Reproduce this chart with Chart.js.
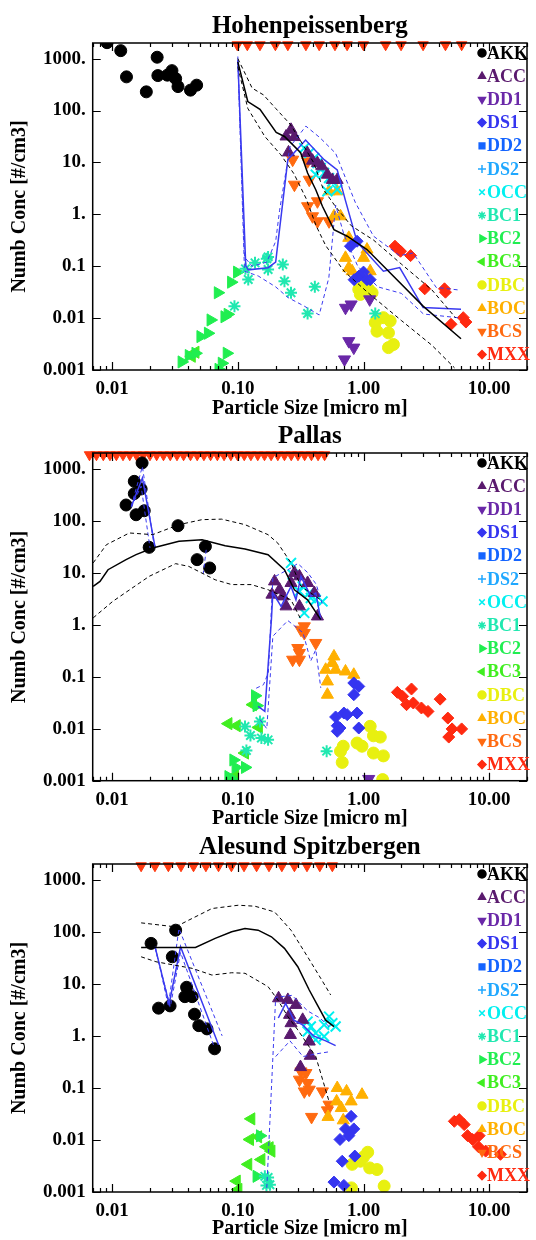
<!DOCTYPE html>
<html>
<head>
<meta charset="utf-8">
<script src="https://cdn.jsdelivr.net/npm/chart.js@4/dist/chart.umd.min.js"></script>
<style>
  html, body { margin: 0; padding: 0; background: #fff; }
  body { width: 536px; height: 1240px; position: relative; overflow: hidden; }
  .panel { position: absolute; left: 0; width: 536px; }
</style>
</head>
<body>
<div class="panel" style="top:0px"><canvas id="c1" width="536" height="420"></canvas></div>
<div class="panel" style="top:410px"><canvas id="c2" width="536" height="420"></canvas></div>
<div class="panel" style="top:821px"><canvas id="c3" width="536" height="419"></canvas></div>
<script>
// Aerosol number concentration by size class, three stations (log-log)

const xTickValues = [0.01, 0.1, 1, 10];
const xTickLabels = ['0.01', '0.10', '1.00', '10.00'];
const yTickValues = [0.001, 0.01, 0.1, 1, 10, 100, 1000];
const yTickLabels = ['0.001', '0.01', '0.1', '1.', '10.', '100.', '1000.'];

const seriesNames = ['AKK', 'ACC', 'DD1', 'DS1', 'DD2', 'DS2', 'OCC', 'BC1', 'BC2', 'BC3', 'DBC', 'BOC', 'BCS', 'MXX'];
const seriesColors = ['#000000', '#5a1a6e', '#6a28a8', '#3535f0', '#1464ff', '#20a8ff', '#00f0f0',
                      '#20e8b0', '#20ee50', '#40ee20', '#e8f010', '#ffb000', '#ff6a10', '#ff2a10'];

// values that run off the top of the panel (drawn at the top edge)
const offScaleY = 1850;

// ---- Hohenpeissenberg ----
const hpAKK = [[0.0091,2030],[0.0117,1425],[0.013,445],[0.0187,229],[0.0228,1064],[0.0231,471],[0.0275,480],[0.0299,587],[0.032,412],[0.0334,289],[0.042,247],[0.047,308]];
const hpACC = [[0.265,42.5],[0.282,30.8],[0.242,31.6],[0.253,15.6],[0.357,15.2],[0.393,10.8],[0.43,9.7],[0.466,8.4],[0.516,5.8],[0.565,4.6],[0.617,4.6]];
const hpDD1 = [[0.797,0.0183],[0.719,0.0158],[0.764,0.0036],[0.837,0.0027],[0.706,0.0016],[1.12,0.023]];
const hpDS1 = [[0.889,0.303],[0.787,0.243],[0.917,0.064],[1.0,0.077],[1.066,0.055],[1.13,0.055],[0.842,0.055]];
const hpOCC = [[0.338,18.9],[0.37,15.2],[0.406,12.2],[0.43,9.7],[0.457,7.8],[0.486,6.25],[0.417,5.8],[0.532,5.0],[0.565,4.3],[0.617,3.0],[0.516,2.77]];
const hpBC1 = [[0.094,0.017],[0.121,0.0555],[0.115,0.089],[0.137,0.116],[0.17,0.139],[0.174,0.151],[0.174,0.0865],[0.228,0.108],[0.235,0.0515],[0.265,0.0307],[0.41,0.04],[0.359,0.0123],[1.24,0.0122]];
const hpBC2 = [[0.0986,0.0767],[0.0884,0.0492],[0.0693,0.0308],[0.0783,0.0106],[0.083,0.0118],[0.0607,0.0092],[0.0578,0.0051],[0.0504,0.0044],[0.046,0.0021],[0.0407,0.0019],[0.0357,0.00143],[0.0816,0.0021],[0.0745,0.00135],[0.0702,0.00103]];
const hpBC3 = [[0.043,0.00184],[0.046,0.0022]];
const hpDBC = [[0.917,0.0357],[1.0,0.0412],[1.1,0.0357],[0.944,0.0286],[1.17,0.0308],[1.44,0.0102],[1.63,0.0088],[1.24,0.0082],[1.28,0.0056],[1.58,0.0052],[1.73,0.0031],[1.58,0.0027]];
const hpBOC = [[0.532,2.77],[0.617,2.77],[0.582,0.916],[0.656,0.916],[0.764,0.352],[1.066,0.209],[1.0,0.145],[0.719,0.145],[0.764,0.093],[0.812,0.08],[1.13,0.08]];
const hpBCS = [[0.273,11.3],[0.359,10.5],[0.282,3.72],[0.37,4.64],[0.359,1.43],[0.43,1.78],[0.393,0.916],[0.43,0.733],[0.532,0.733]];
const hpMXX = [[1.78,0.243],[1.89,0.21],[1.97,0.194],[2.37,0.16],[3.07,0.0367],[4.41,0.0367],[4.49,0.0316],[4.97,0.0076],[6.22,0.0102],[6.53,0.0084]];
const hpTopX = [0.099,0.119,0.15,0.199,0.25,0.348,0.444,0.593,0.741,1.0,1.5,1.99,2.98,4.49,6.04];
const hpMed = [[0.1,864],[0.12,149],[0.15,105],[0.202,38],[0.235,31.6],[0.316,15.4],[0.359,6.25],[0.417,2.98],[0.471,1.43],[0.582,0.508],[0.742,0.378],[1.066,0.209],[1.626,0.0747],[2.98,0.017],[5.97,0.004]];
const hpHi = [[0.1,1000],[0.115,500],[0.13,270],[0.16,200],[0.2,110],[0.26,55],[0.33,22],[0.4,10],[0.48,3],[0.6,1.4],[0.8,0.6],[1.2,0.32],[2,0.11],[3.5,0.035],[5.4,0.0102]];
const hpLo = [[0.1,700],[0.12,110],[0.164,31.6],[0.22,14],[0.28,6],[0.35,2],[0.42,0.6],[0.5,0.25],[0.7,0.08],[1.1,0.03],[2,0.009],[3.5,0.003],[5.3,0.0011]];
const hpBlue = [[0.1,940],[0.1156,0.103],[0.121,0.085],[0.174,0.0936],[0.2,0.12],[0.25,11.3],[0.346,27],[0.486,11.3],[0.618,7.2],[0.716,1.9],[0.89,0.29],[1.44,0.08],[1.94,0.094],[2.98,0.016],[5.97,0.0148]];
const hpBlueHi = [[0.1,1100],[0.113,0.15],[0.13,0.1],[0.17,0.12],[0.2,0.3],[0.215,1.2],[0.26,20],[0.348,50],[0.45,30],[0.6,15],[0.86,1.7],[1.2,0.38],[1.94,0.16],[2.48,0.18],[3.79,0.039],[5.63,0.035]];
const hpBlueLo = [[0.1,900],[0.113,0.08],[0.145,0.065],[0.2,0.04],[0.25,0.025],[0.338,0.017],[0.444,0.0115],[0.53,0.06],[0.6,1.5],[0.7,0.4],[0.9,0.1],[1.3,0.04],[2,0.03],[3,0.012],[6,0.01]];

// ---- Pallas ----
const paAKK = [[0.0173,1288],[0.015,570],[0.017,407],[0.015,331],[0.0129,200],[0.0155,130],[0.018,155],[0.0197,30.7],[0.0334,80],[0.0552,32],[0.0474,17.8],[0.0597,12.3]];
const paACC = [[0.196,6.8],[0.187,3.78],[0.215,4.7],[0.228,3.5],[0.242,2.25],[0.265,6.34],[0.282,9.9],[0.309,8.5],[0.309,2.25],[0.359,6.34],[0.406,4.07],[0.43,1.44]];
const paDD1 = [[1.1,0.00108]];
const paDS1 = [[0.837,0.0757],[0.917,0.065],[0.837,0.045],[0.6,0.0168],[0.698,0.02],[0.742,0.0186],[0.889,0.02],[0.618,0.0114],[0.65,0.0103],[0.618,0.0089],[0.917,0.0103]];
const paOCC = [[0.265,15.4],[0.273,9.2],[0.309,4.37],[0.328,5.45],[0.37,4.07],[0.381,3.26],[0.338,1.68],[0.417,3.0],[0.472,2.8]];
const paBC1 = [[0.114,0.011],[0.126,0.0074],[0.15,0.0138],[0.154,0.0066],[0.117,0.0038],[0.174,0.0061],[0.509,0.0037]];
const paBC2 = [[0.137,0.043],[0.141,0.0277],[0.0922,0.0025],[0.096,0.0018],[0.114,0.0018],[0.0842,0.0012],[0.089,0.00108]];
const paBC3 = [[0.0842,0.0125],[0.098,0.0114],[0.114,0.0034],[0.147,0.0106],[0.132,0.029],[0.095,0.00125]];
const paDBC = [[1.13,0.0111],[1.2,0.0073],[1.36,0.0069],[0.889,0.0053],[0.973,0.0046],[0.69,0.0046],[0.656,0.0037],[0.677,0.00225],[1.2,0.0034],[1.44,0.003],[1.42,0.00105]];
const paBOC = [[0.582,0.245],[0.565,0.183],[0.5,0.136],[0.6,0.136],[0.719,0.126],[0.837,0.109],[0.516,0.081],[0.516,0.045]];
const paBCS = [[0.318,0.8],[0.338,0.69],[0.417,0.445],[0.3,0.356],[0.309,0.286],[0.273,0.212],[0.309,0.212],[0.338,0.93]];
const paMXX = [[1.86,0.05],[2.05,0.0418],[2.41,0.058],[2.2,0.029],[2.49,0.0312],[2.89,0.025],[3.26,0.0215],[4.07,0.037],[4.69,0.016],[5.07,0.0099],[4.77,0.0069],[6.04,0.0099]];
const paTopX = [0.0066,0.0075,0.0085,0.0096,0.0108,0.0122,0.0138,0.0156,0.0177,0.02,0.0226,0.0256,0.029,0.0328,0.037,0.042,0.0475,0.0537,0.0607,0.0687,0.0777,0.088,0.0995,0.1125,0.127,0.144,0.163,0.184,0.208,0.235,0.266,0.301,0.34,0.385,0.435,0.49];
const paMed = [[0.00706,5.45],[0.008,6.8],[0.00927,11.4],[0.0129,17.8],[0.0155,22.2],[0.021,29.9],[0.034,40],[0.0519,43],[0.0793,33],[0.114,28.6],[0.174,22.2],[0.235,11.4],[0.282,4.7],[0.359,3.0],[0.457,1.25]];
const paHi = [[0.00706,15.4],[0.009,34.5],[0.0137,58],[0.021,53.8],[0.034,83.8],[0.0519,104.6],[0.0745,107],[0.114,83.8],[0.174,53.8],[0.208,37],[0.265,15.4],[0.318,5.45],[0.457,3]];
const paLo = [[0.00706,1.35],[0.0101,2.8],[0.0197,8.5],[0.032,14.9],[0.0407,13.2],[0.066,7.3],[0.0894,5.9],[0.128,5.9],[0.174,4.7],[0.265,3.0],[0.318,1.25]];
const paBlueA = [[0.0142,188],[0.0174,660],[0.022,29.9]];
const paBlueHiA = [[0.0142,190],[0.0174,1100],[0.0215,35]];
const paBlueLoA = [[0.0142,180],[0.017,460],[0.02,30]];
const paBlueHiC = [[0.056,27.5],[0.053,9.5]];
const paBlueB = [[0.145,0.0268],[0.164,0.0215],[0.185,1.25],[0.19,4.07],[0.221,2.25],[0.265,5.45],[0.29,3.0],[0.318,8.5],[0.381,3.5],[0.417,4.07],[0.457,1.25]];
const paBlueHiB = [[0.14,0.06],[0.16,0.07],[0.175,0.12],[0.19,8],[0.26,12],[0.3,15],[0.36,10],[0.42,6],[0.47,2.5]];
const paBlueLoB = [[0.15,0.015],[0.17,0.01],[0.19,0.6],[0.25,1.2],[0.33,0.7],[0.38,0.2],[0.417,0.33],[0.457,0.061]];

// ---- Alesund Spitzbergen ----
const alAKK = [[0.0204,59.7],[0.032,107],[0.0301,33],[0.0234,3.4],[0.0289,3.76],[0.0391,8.57],[0.0379,5.66],[0.0433,5.66],[0.0452,2.6],[0.0489,1.57],[0.0568,1.36],[0.0653,0.564]];
const alACC = [[0.211,5.27],[0.25,4.9],[0.29,3.93],[0.258,2.53],[0.265,1.75],[0.328,2.03],[0.262,1.04],[0.37,0.777],[0.377,0.414],[0.315,0.251]];
const alDS1 = [[0.797,0.0284],[0.719,0.0163],[0.837,0.0163],[0.764,0.0121],[0.65,0.0102],[0.853,0.0049],[0.677,0.0039],[0.582,0.00155],[0.698,0.00134]];
const alOCC = [[0.359,1.88],[0.381,1.51],[0.417,1.13],[0.486,1.63],[0.532,2.34],[0.565,1.75],[0.6,1.51],[0.359,1.21],[0.417,0.838],[0.486,0.97]];
const alBC1 = [[0.164,0.002],[0.174,0.0019],[0.169,0.00134],[0.18,0.00138]];
const alBC2 = [[0.141,0.002],[0.15,0.012]];
const alBC3 = [[0.128,0.0254],[0.125,0.0102],[0.145,0.0115],[0.169,0.0074],[0.154,0.0042],[0.121,0.0034],[0.101,0.00112],[0.098,0.00162],[0.179,0.0071],[0.185,0.0061]];
const alDBC = [[1.08,0.0058],[1.0,0.0047],[0.944,0.0039],[0.812,0.0034],[0.802,0.0012],[1.12,0.0029],[1.28,0.0027],[1.46,0.0013]];
const alBOC = [[0.618,0.0995],[0.733,0.0857],[0.973,0.074],[0.611,0.055],[0.797,0.055],[0.665,0.041],[0.522,0.0277],[0.69,0.0238]];
const alBCS = [[0.318,0.207],[0.348,0.193],[0.309,0.144],[0.359,0.124],[0.338,0.0857],[0.37,0.0924],[0.471,0.0857],[0.532,0.0476],[0.516,0.037],[0.386,0.0277]];
const alMXX = [[5.28,0.0228],[5.78,0.0246],[6.33,0.0197],[6.73,0.0121],[7.38,0.0102],[8.32,0.0121],[8.22,0.0074],[9.38,0.0061],[12.3,0.0053]];
const alTopX = [0.017,0.0219,0.028,0.0353,0.0444,0.0557,0.0702,0.0889,0.112,0.141,0.177,0.224,0.282,0.355,0.449,0.565];
const alMed = [[0.017,50],[0.046,50],[0.066,74.5],[0.0894,99.6],[0.114,115.6],[0.145,107],[0.185,80],[0.235,47.9],[0.3,21.3],[0.37,7.6],[0.43,3.9],[0.5,2.0],[0.582,1.5]];
const alHi = [[0.017,148],[0.032,124],[0.0407,167],[0.0622,279],[0.101,323],[0.137,309],[0.196,240],[0.265,107],[0.359,33],[0.457,12.7],[0.548,6.1]];
const alLo = [[0.017,33],[0.0223,26.5],[0.0433,19.8],[0.0622,14.7],[0.0894,16.3],[0.114,15.9],[0.174,8.8],[0.208,4.9],[0.25,2.34],[0.3,1.3],[0.417,0.4],[0.532,0.055]];
const alBlueA = [[0.022,50],[0.0284,4.1],[0.035,51.4],[0.0702,0.673]];
const alBlueHiA = [[0.022,52],[0.028,3.8],[0.034,115],[0.075,1.0]];
const alBlueLoA = [[0.022,48],[0.029,3.6],[0.035,40],[0.065,0.6]];
const alBlueB = [[0.21,2.2],[0.24,4.2],[0.28,2.0],[0.33,1.6],[0.4,1.0],[0.5,0.8],[0.6,0.65]];
const alBlueHiB = [[0.17,0.0012],[0.2,5.5],[0.27,6],[0.36,3],[0.45,2.2],[0.55,1.4]];
const alBlueLoB = [[0.2,0.4],[0.26,0.8],[0.33,0.4],[0.42,0.45],[0.55,0.5]];

// marker look for each size class, same order as seriesNames
const markerStyles = [
  { style: 'circle', rot: 0, r: 6 },
  { style: 'triangle', rot: 0, r: 7 },
  { style: 'triangle', rot: 180, r: 7 },
  { style: 'rectRot', rot: 0, r: 6 },
  { style: 'rect', rot: 0, r: 6 },
  { style: 'cross', rot: 0, r: 6 },
  { style: 'crossRot', rot: 0, r: 7 },
  { style: 'star', rot: 0, r: 6 },
  { style: 'triangle', rot: 90, r: 7 },
  { style: 'triangle', rot: 270, r: 7 },
  { style: 'circle', rot: 0, r: 6 },
  { style: 'triangle', rot: 0, r: 7 },
  { style: 'triangle', rot: 180, r: 7 },
  { style: 'rectRot', rot: 0, r: 6 }
];

const FONT = '"Liberation Serif", "Times New Roman", serif';

const panels = [
  { id: 'c1', title: 'Hohenpeissenberg', plotBottom: 370,
    points: { AKK: hpAKK, ACC: hpACC, DD1: hpDD1, DS1: hpDS1, OCC: hpOCC, BC1: hpBC1, BC2: hpBC2, BC3: hpBC3, DBC: hpDBC, BOC: hpBOC, BCS: hpBCS, MXX: hpMXX },
    top: hpTopX, med: hpMed, hi: hpHi, lo: hpLo,
    blue: [hpBlue], blueDash: [hpBlueHi, hpBlueLo] },
  { id: 'c2', title: 'Pallas', plotBottom: 370.7,
    points: { AKK: paAKK, ACC: paACC, DD1: paDD1, DS1: paDS1, OCC: paOCC, BC1: paBC1, BC2: paBC2, BC3: paBC3, DBC: paDBC, BOC: paBOC, BCS: paBCS, MXX: paMXX },
    top: paTopX, med: paMed, hi: paHi, lo: paLo,
    blue: [paBlueA, paBlueB], blueDash: [paBlueHiA, paBlueLoA, paBlueHiC, paBlueHiB, paBlueLoB] },
  { id: 'c3', title: 'Alesund Spitzbergen', plotBottom: 371,
    points: { AKK: alAKK, ACC: alACC, DS1: alDS1, OCC: alOCC, BC1: alBC1, BC2: alBC2, BC3: alBC3, DBC: alDBC, BOC: alBOC, BCS: alBCS, MXX: alMXX },
    top: alTopX, med: alMed, hi: alHi, lo: alLo,
    blue: [alBlueA, alBlueB], blueDash: [alBlueHiA, alBlueLoA, alBlueHiB, alBlueLoB] }
];

function pts(arr) {
  return arr.map(p => ({ x: p[0], y: p[1] }));
}

function lineSet(arr, color, dash, width) {
  return {
    type: 'line', data: pts(arr), showLine: true, fill: false,
    borderColor: color, borderWidth: width, borderDash: dash,
    pointRadius: 0, tension: 0, order: 0
  };
}

// inward ticks and frame, like the original plot
const framePlugin = {
  id: 'frame',
  afterDraw(chart) {
    const { ctx, chartArea: a, scales: { x, y } } = chart;
    ctx.save();
    ctx.strokeStyle = '#000';
    ctx.lineWidth = 1.5;
    ctx.strokeRect(a.left, a.top, a.right - a.left, a.bottom - a.top);
    ctx.lineWidth = 1.2;
    ctx.beginPath();
    for (let e = -3; e <= 1; e++) {
      for (let k = 1; k <= 9; k++) {
        const v = k * Math.pow(10, e);
        if (v < x.min || v > x.max) continue;
        const px = Math.round(x.getPixelForValue(v)) + 0.5;
        const len = k === 1 ? 8 : 4;
        ctx.moveTo(px, a.bottom); ctx.lineTo(px, a.bottom - len);
        ctx.moveTo(px, a.top); ctx.lineTo(px, a.top + len);
      }
    }
    yTickValues.forEach(v => {
      const py = Math.round(y.getPixelForValue(v)) + 0.5;
      ctx.moveTo(a.left, py); ctx.lineTo(a.left + 8, py);
      ctx.moveTo(a.right, py); ctx.lineTo(a.right - 8, py);
    });
    ctx.stroke();
    ctx.restore();
  }
};

// panel title and the coloured legend down the right side
const labelPlugin = {
  id: 'labels',
  afterDraw(chart, args, opts) {
    const { ctx, chartArea: a } = chart;
    ctx.save();
    ctx.fillStyle = '#000';
    ctx.font = 'bold 25px ' + FONT;
    ctx.textAlign = 'center';
    ctx.textBaseline = 'alphabetic';
    ctx.fillText(opts.title, (a.left + a.right) / 2, 33);

    ctx.font = 'bold 18px ' + FONT;
    ctx.textAlign = 'left';
    ctx.textBaseline = 'middle';
    seriesNames.forEach((name, i) => {
      const yy = a.top + 10 + i * 23.2;
      const m = markerStyles[i];
      const col = seriesColors[i];
      ctx.fillStyle = col;
      ctx.strokeStyle = col;
      ctx.lineWidth = 1.5;
      Chart.helpers.drawPoint(ctx, { pointStyle: m.style, rotation: m.rot, radius: 4, borderWidth: 1.5 }, a.right - 45, yy);
      ctx.fillStyle = col;
      ctx.fillText(name, a.right - 40, yy + 1);
    });
    ctx.restore();
  }
};

panels.forEach(p => {
  const datasets = [];
  // black median and spread
  datasets.push(lineSet(p.med, '#000', [], 1.5));
  datasets.push(lineSet(p.hi, '#000', [4, 3], 1));
  datasets.push(lineSet(p.lo, '#000', [4, 3], 1));
  p.blue.forEach(b => datasets.push(lineSet(b, '#3a3af0', [], 1.5)));
  p.blueDash.forEach(b => datasets.push(lineSet(b, '#3a3af0', [4, 3], 1)));

  seriesNames.forEach((name, i) => {
    const arr = p.points[name];
    if (!arr) return;
    const m = markerStyles[i];
    const open = m.style === 'cross' || m.style === 'crossRot' || m.style === 'star';
    datasets.push({
      label: name, data: pts(arr), showLine: false,
      pointStyle: m.style, rotation: m.rot, pointRadius: m.r,
      backgroundColor: seriesColors[i], borderColor: seriesColors[i],
      borderWidth: open ? 2 : 1, order: 1
    });
  });

  // off-scale values sitting on the top axis
  datasets.push({
    label: 'top', data: p.top.map(v => ({ x: v, y: offScaleY })), showLine: false,
    pointStyle: 'triangle', rotation: 180, pointRadius: 6,
    backgroundColor: '#ff3a10', borderColor: '#ff3a10', borderWidth: 1,
    clip: false, order: 1
  });

  const canvas = document.getElementById(p.id);
  const xh = canvas.height - p.plotBottom;
  const tickFont = { family: FONT, size: 19, weight: 'bold' };

  new Chart(canvas.getContext('2d'), {
    type: 'scatter',
    data: { datasets: datasets },
    options: {
      responsive: false,
      animation: false,
      layout: { padding: { top: 43, right: 3, left: 0, bottom: 0 } },
      plugins: {
        legend: { display: false },
        tooltip: { enabled: false },
        labels: { title: p.title }
      },
      scales: {
        x: {
          type: 'logarithmic', min: 0.007, max: 20, position: 'bottom',
          afterFit: s => { s.height = xh; },
          afterBuildTicks: s => { s.ticks = xTickValues.map(v => ({ value: v })); },
          ticks: {
            callback: (v, i) => xTickLabels[i],
            font: tickFont, color: '#000', padding: 8,
            maxRotation: 0, autoSkip: false
          },
          grid: { display: false, drawTicks: false },
          border: { display: false },
          title: {
            display: true, text: 'Particle Size [micro m]', color: '#000',
            font: { family: FONT, size: 20, weight: 'bold' },
            padding: { top: 0, bottom: -1 }
          }
        },
        y: {
          type: 'logarithmic', min: 0.001, max: 2000, position: 'left',
          afterFit: s => { s.width = 92.7; },
          afterBuildTicks: s => { s.ticks = yTickValues.map(v => ({ value: v })); },
          ticks: {
            callback: (v, i) => yTickLabels[i],
            font: tickFont, color: '#000', padding: 7, autoSkip: false
          },
          grid: { display: false, drawTicks: false },
          border: { display: false },
          title: {
            display: true, text: 'Numb Conc [#/cm3]', color: '#000',
            font: { family: FONT, size: 20, weight: 'bold' },
            padding: { top: 8, bottom: 0 }
          }
        }
      }
    },
    plugins: [framePlugin, labelPlugin]
  });
});
</script>
</body>
</html>
